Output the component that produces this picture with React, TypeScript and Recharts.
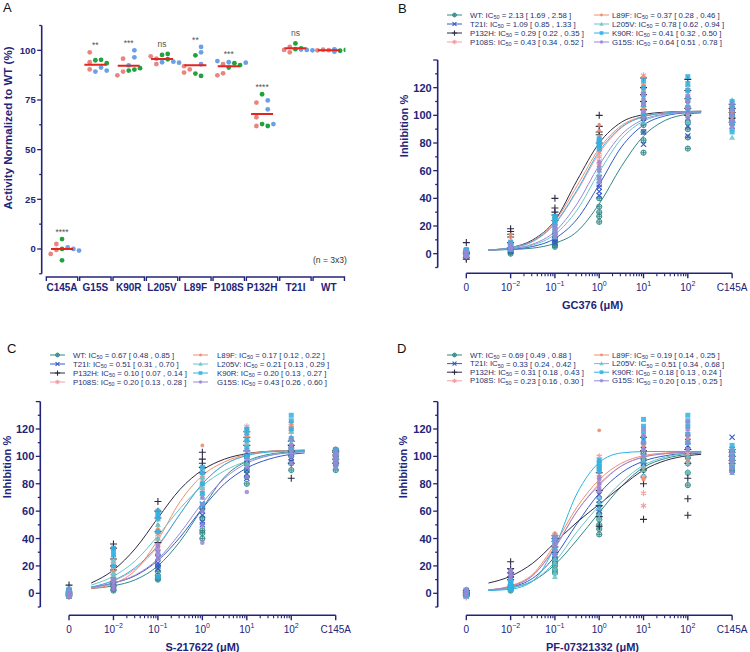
import React from 'react';
import { ComposedChart, Scatter, Line, XAxis, YAxis, Legend } from 'recharts';

const NAVY = '#22247a';
const TEXT = '#26306e';
const FONT = '"Liberation Sans", Arial, Helvetica, sans-serif';

// ---------- panel A: activity of each mutant, 3 replicates x 3 runs ----------
const mutants = ['C145A', 'G15S', 'K90R', 'L205V', 'L89F', 'P108S', 'P132H', 'T21I', 'WT'];
const activityRed = [[2.5, -0.5, -2.5], [99, 94, 90.4], [95.8, 89.3, 87.4], [95.8, 93.1, 97], [90.4, 88.8, 92], [93, 88.4, 87.4], [73.7, 66.3, 61.9], [101.7, 100.2, 99], [100.3, 100, 100.1]];
const activityGreen = [[5, -5.7, 0], [95, 95.2, 93.5], [89.8, 90.3, 91], [97.7, 98.2, 95.5], [97.5, 88.3, 87.1], [91.3, 93.5, 92.6], [77.9, 62.9, 61.9], [103.5, 101, 100.6], [100, 99.8, 100.2]];
const activityBlue = [[0.8, 0, -0.8], [91.3, 89.8, 89.3], [100, 96.5, 92.4], [94.3, 94, 93.8], [101.7, 99, 93], [94, 93.8, 94.6], [74.8, 70.3, 62.9], [100.2, 100, 100.4], [99.3, 100.2, 100.5]];
const activityMedian = [0, 92.8, 92.3, 95.6, 92.5, 92, 68, 101, 100];
const significance = ['****', '**', '***', 'ns', '**', '***', '****', 'ns', ''];

// ---------- panels B-D: dose response ----------
const variants = ['WT', 'T21I', 'P132H', 'P108S', 'L89F', 'L205V', 'K90R', 'G15S'];
const doseUM = [0, 0.01, 0.1, 1, 10, 100]; // 7th column of points is the C145A control
const curveUM = [0.00316, 0.01, 0.0316, 0.1, 0.316, 1, 3.16, 10, 31.6, 100, 200];

// GC376
const gcIC50 = [2.13, 1.09, 0.29, 0.43, 0.37, 0.78, 0.41, 0.64];
const gcLow = [1.69, 0.85, 0.22, 0.34, 0.28, 0.62, 0.32, 0.51];
const gcHigh = [2.58, 1.33, 0.35, 0.52, 0.46, 0.94, 0.5, 0.78];
const gcCurves = [
  [2.6, 3.0, 4.0, 7.5, 16, 36, 63, 85, 96.5, 100.8, 101.8],
  [2.7, 3.3, 5.2, 11, 25, 50, 77, 93, 99.7, 101.9, 102.5],
  [2.6, 4.4, 10, 24, 53, 80, 95, 100.5, 102.3, 102.8, 103],
  [2.7, 4.2, 8.6, 21.5, 45, 72.5, 91, 99, 101.7, 102.6, 102.8],
  [2.7, 4.4, 9.4, 23.5, 49, 76, 92.5, 99.4, 101.8, 102.6, 102.8],
  [2.6, 3.6, 6.2, 14, 31.5, 59, 83, 95.8, 100.6, 102.2, 102.6],
  [2.7, 4.3, 9, 22, 46, 74, 91.4, 99, 101.7, 102.6, 102.8],
  [2.6, 3.7, 6.9, 16, 36, 64, 86, 97, 101, 102.4, 102.7],
];
const gcPoints = [
  [[-1, 1, -2, 0, 2], [0, 2, 4, 1, 3], [5, 8, 11, 6, 9], [23, 30, 40, 27, 34], [73, 88, 98, 82, 93], [76, 90, 100, 84, 95], [96, 100, 104, 98, 102]],
  [[0, -1, 2, 1, -2], [2, 4, 6, 3, 5], [8, 12, 16, 10, 14], [45, 50, 55, 42, 48], [79, 95, 105, 88, 100], [85, 98, 108, 92, 103], [92, 99, 105, 95, 102]],
  [[8, -3, 1, 0, -4], [16, 18, 8, 12, 14], [30, 33, 40, 24, 28], [86, 88, 100, 80, 92], [110, 120, 127, 104, 115], [105, 118, 126, 100, 112], [95, 102, 108, 98, 105]],
  [[1, -1, 2, 0, -2], [4, 6, 9, 5, 8], [18, 22, 25, 20, 24], [64, 70, 76, 67, 73], [110, 122, 129, 104, 116], [100, 112, 120, 106, 116], [92, 98, 105, 95, 101]],
  [[0, 2, -1, 1, 3], [5, 7, 12, 9, 14], [20, 23, 27, 22, 25], [74, 85, 93, 79, 89], [105, 118, 128, 110, 122], [100, 110, 118, 105, 114], [95, 100, 106, 97, 103]],
  [[1, 2, 0, 3, -1], [3, 5, 7, 4, 6], [12, 15, 18, 14, 17], [52, 57, 62, 55, 60], [95, 108, 118, 102, 112], [95, 108, 122, 100, 115], [84, 96, 111, 90, 104]],
  [[0, 1, 2, -1, 3], [3, 6, 8, 4, 7], [20, 24, 27, 22, 26], [78, 80, 83, 76, 82], [100, 115, 125, 108, 120], [105, 118, 128, 112, 123], [88, 100, 110, 94, 106]],
  [[0, 1, -1, 2, -2], [3, 5, 7, 4, 6], [12, 16, 20, 14, 18], [55, 60, 66, 52, 63], [98, 108, 116, 103, 112], [98, 106, 114, 102, 110], [92, 100, 108, 96, 104]],
];

// S-217622
const sIC50 = [0.67, 0.51, 0.1, 0.2, 0.17, 0.21, 0.2, 0.43];
const sLow = [0.48, 0.31, 0.07, 0.13, 0.12, 0.13, 0.13, 0.26];
const sHigh = [0.85, 0.7, 0.14, 0.28, 0.22, 0.29, 0.27, 0.6];
const sCurves = [
  [3.5, 5.5, 10, 20, 38, 62, 85, 96.5, 101.5, 103.2, 103.7],
  [4.5, 7.5, 13, 24, 41, 62, 80, 91.5, 98, 101.5, 102.5],
  [7.5, 17, 33, 55, 76, 90, 98, 102, 103.7, 104.3, 104.5],
  [4.5, 9, 18, 34, 58, 80, 94, 101, 103.5, 104.2, 104.4],
  [3.5, 7, 17, 39, 67, 86, 96, 101.5, 103.6, 104.3, 104.5],
  [6, 12.5, 24, 42, 62, 78.5, 89.5, 96.5, 100.8, 102.8, 103.5],
  [4.5, 9.5, 19, 35, 58, 80, 94, 100.5, 103.2, 104, 104.3],
  [4, 7.5, 13.5, 25, 44, 66, 84, 95, 100.5, 102.8, 103.4],
];
const sPoints = [
  [[0, -1, 1, 2, -2], [2, 5, 8, 3, 6], [10, 13, 20, 11, 16], [40, 44, 62, 46, 55], [80, 90, 100, 85, 95], [90, 100, 106, 95, 103], [90, 100, 105, 95, 103]],
  [[0, 1, -1, 2, -2], [4, 8, 12, 6, 10], [18, 22, 30, 20, 26], [52, 57, 65, 50, 60], [84, 90, 100, 87, 95], [96, 102, 110, 99, 106], [92, 98, 104, 95, 101]],
  [[6, 0, -1, 1, -2], [20, 33, 36, 17, 25], [37, 55, 67, 45, 60], [92, 95, 103, 88, 98], [108, 114, 118, 104, 111], [84, 104, 111, 95, 108], [95, 101, 104, 98, 103]],
  [[-2, 0, 1, -1, 2], [10, 15, 23, 12, 19], [30, 40, 45, 35, 43], [75, 82, 90, 78, 86], [105, 115, 122, 110, 119], [105, 118, 124, 112, 121], [96, 100, 104, 98, 102]],
  [[-1, 1, 0, 2, -2], [8, 12, 20, 10, 16], [35, 44, 50, 40, 47], [80, 88, 108, 84, 92], [108, 115, 120, 111, 118], [108, 120, 125, 114, 123], [98, 102, 105, 100, 104]],
  [[0, 1, 2, -1, 3], [12, 20, 28, 15, 24], [40, 50, 58, 45, 54], [70, 77, 85, 73, 81], [95, 105, 112, 100, 109], [95, 110, 118, 103, 114], [92, 99, 104, 96, 102]],
  [[1, 0, 2, -1, 3], [10, 28, 33, 20, 31], [12, 55, 60, 45, 58], [65, 80, 92, 73, 88], [100, 112, 120, 106, 117], [105, 120, 130, 113, 126], [94, 100, 105, 97, 103]],
  [[0, 1, -1, 2, -2], [3, 6, 10, 5, 8], [25, 30, 35, 27, 33], [37, 60, 70, 50, 65], [74, 92, 104, 85, 98], [95, 104, 112, 100, 108], [92, 98, 103, 95, 101]],
];

// PF-07321332
const pfIC50 = [0.69, 0.33, 0.31, 0.23, 0.19, 0.51, 0.18, 0.2];
const pfLow = [0.49, 0.24, 0.18, 0.16, 0.14, 0.34, 0.13, 0.15];
const pfHigh = [0.88, 0.42, 0.43, 0.3, 0.25, 0.68, 0.24, 0.25];
const pfCurves = [
  [2.5, 4, 9, 21, 39, 59, 78, 92, 98.5, 101.5, 102.5],
  [2.5, 4.5, 11, 27, 51, 73, 88, 96.5, 100.5, 102.3, 102.8],
  [7.5, 12.5, 22, 37, 52, 65, 78, 90, 97, 100.5, 101.5],
  [2.5, 5, 13, 34, 60, 80, 93, 99.5, 102, 103, 103.3],
  [2.5, 5.5, 14, 36, 63, 83, 95, 100.5, 102.5, 103.2, 103.4],
  [2.2, 4, 9, 23, 45, 64, 81, 93.5, 99.5, 102.3, 102.9],
  [2, 3, 9, 34, 73, 95.5, 102.5, 103.5, 103.6, 103.6, 103.6],
  [2.5, 5, 13, 33, 60, 79, 93, 99.5, 102, 103, 103.3],
];
const pfPoints = [
  [[0, 1, -1, 2, -2], [2, 4, 6, 3, 5], [15, 20, 25, 17, 22], [43, 50, 58, 47, 54], [85, 95, 102, 90, 98], [79, 95, 102, 88, 99], [90, 98, 104, 94, 101]],
  [[1, 0, -1, 2, -2], [8, 13, 16, 10, 14], [25, 30, 40, 28, 35], [60, 65, 72, 62, 68], [95, 105, 112, 100, 108], [100, 108, 114, 104, 111], [90, 100, 114, 95, 105]],
  [[1, -2, 2, 0, -1], [10, 15, 23, 12, 18], [30, 38, 42, 34, 40], [49, 64, 88, 56, 75], [54, 80, 114, 90, 104], [57, 69, 84, 95, 105], [95, 100, 105, 97, 103]],
  [[-3, -1, 1, 0, -2], [4, 6, 9, 5, 8], [35, 40, 43, 37, 42], [75, 85, 100, 80, 92], [64, 73, 110, 85, 100], [95, 110, 118, 102, 114], [92, 98, 104, 95, 101]],
  [[0, 1, -1, 2, -2], [4, 7, 10, 5, 9], [32, 38, 44, 35, 41], [80, 88, 119, 84, 97], [83, 100, 115, 92, 108], [98, 112, 122, 105, 117], [95, 100, 106, 97, 103]],
  [[0, 1, 2, -1, 3], [3, 5, 8, 4, 6], [12, 18, 25, 15, 22], [55, 62, 70, 58, 66], [90, 97, 105, 93, 101], [89, 100, 110, 95, 105], [88, 100, 106, 94, 103]],
  [[0, 1, -1, 2, -2], [3, 6, 9, 4, 7], [28, 36, 41, 32, 39], [89, 93, 97, 91, 95], [110, 118, 127, 114, 122], [110, 122, 130, 116, 126], [92, 100, 108, 96, 104]],
  [[0, 1, 2, -1, 3], [12, 15, 17, 13, 16], [28, 35, 41, 31, 38], [75, 80, 85, 77, 83], [100, 110, 120, 105, 115], [105, 115, 125, 110, 120], [88, 96, 104, 92, 100]],
];

const variantColor = ['#2f8787', '#3358c8', '#2e2a44', '#f2a0a6', '#f08d6a', '#66c5c9', '#2fb2e4', '#9887d6'];
const dotColors = ['#e98580', '#22a23c', '#6b9fe6'];

// 0 µM sits one decade left of 10^-2, the C145A control one decade right of 10^2
const doseX = (d: number) => (d === 0 ? -3 : Math.log10(d));
const CONTROL_X = 3;

function Marker({ kind, cx, cy, color, k = 1 }: { kind: number; cx: number; cy: number; color: string; k?: number }) {
  const s = 2.6 * k;
  switch (kind) {
    case 0:
      return (
        <g>
          <circle cx={cx} cy={cy} r={s} fill={color} fillOpacity={0.3} stroke={color} strokeWidth={0.9} />
          <path d={`M${cx - s},${cy}H${cx + s}M${cx},${cy - s}V${cy + s}`} stroke={color} strokeWidth={0.8} />
        </g>
      );
    case 1:
      return <path d={`M${cx - s},${cy - s}L${cx + s},${cy + s}M${cx - s},${cy + s}L${cx + s},${cy - s}`} stroke={color} strokeWidth={1.1} />;
    case 2:
      return <path d={`M${cx - 3.5 * k},${cy}H${cx + 3.5 * k}M${cx},${cy - 3.5 * k}V${cy + 3.5 * k}`} stroke={color} strokeWidth={1.1} />;
    case 3:
      return <path d={`M${cx},${cy - 3 * k}V${cy + 3 * k}M${cx - 2.6 * k},${cy - 1.5 * k}L${cx + 2.6 * k},${cy + 1.5 * k}M${cx - 2.6 * k},${cy + 1.5 * k}L${cx + 2.6 * k},${cy - 1.5 * k}`} stroke={color} strokeWidth={1.2} />;
    case 4:
      return <circle cx={cx} cy={cy} r={1.9 * k} fill={color} fillOpacity={0.9} />;
    case 5:
      return <path d={`M${cx},${cy - 3 * k}L${cx + 3 * k},${cy + 2.2 * k}L${cx - 3 * k},${cy + 2.2 * k}Z`} fill={color} fillOpacity={0.85} />;
    case 6:
      return <rect x={cx - 2.5 * k} y={cy - 2.5 * k} width={5 * k} height={5 * k} fill={color} fillOpacity={0.85} />;
    default:
      return <circle cx={cx} cy={cy} r={2.3 * k} fill={color} fillOpacity={0.85} />;
  }
}

const majorLog = [-3, -2, -1, 0, 1, 2, 3];
const minorLog = [-2, -1, 0, 1].flatMap((d) => [2, 3, 4, 5, 6, 7, 8, 9].map((k) => d + Math.log10(k)));
const logTicks = [...majorLog, ...minorLog].sort((a, b) => a - b);
const inhibTicks = Array.from({ length: 16 }, (_, i) => -10 + i * 10);

function LogTick({ x, y, payload, dec, drop }: any) {
  const v = payload.value;
  const ly = y + drop;
  const major = Math.abs(v - Math.round(v)) < 1e-9;
  if (!major) return <line x1={x} x2={x} y1={ly} y2={ly + 3} stroke={NAVY} strokeWidth={1.1} />;
  const r = Math.round(v);
  let label: React.ReactNode;
  if (r === -3) label = '0';
  else if (r === 3) label = 'C145A';
  else
    label = (
      <>
        10
        <tspan fontSize={7} dy={-4}>
          {r < 0 ? `\u2212${-r}` : `${r}`}
        </tspan>
      </>
    );
  return (
    <g>
      {r === -3 && <line x1={x} x2={x + 6 * dec} y1={ly} y2={ly} stroke={NAVY} strokeWidth={1.6} />}
      <line x1={x} x2={x} y1={ly} y2={ly + 5} stroke={NAVY} strokeWidth={1.4} />
      <text x={x} y={ly + 14} textAnchor="middle" dominantBaseline="central" fontSize={10} fill={NAVY} fontFamily={FONT}>
        {label}
      </text>
    </g>
  );
}

function YTick({ x, y, payload, isMajor, showLabel, fontSize }: any) {
  const v = payload.value;
  const major = isMajor(v);
  return (
    <g>
      <line x1={x - (major ? 4.5 : 2.5)} x2={x} y1={y} y2={y} stroke={NAVY} strokeWidth={1.3} />
      {showLabel(v) && (
        <text x={x - 6} y={y} textAnchor="end" dominantBaseline="central" fontSize={fontSize} fontWeight="bold" fill={NAVY} fontFamily={FONT}>
          {v}
        </text>
      )}
    </g>
  );
}

function CatTick({ x, y, payload }: any) {
  const yl = y + 3.2;
  return (
    <g>
      <path d={`M${x - 15.7},${yl + 4}V${yl}H${x + 15.7}V${yl + 4}`} stroke={NAVY} strokeWidth={1.4} fill="none" />
      <text x={x} y={yl + 10.5} textAnchor="middle" dominantBaseline="central" fontSize={10} fontWeight="bold" fill={NAVY} fontFamily={FONT}>
        {mutants[payload.value]}
      </text>
    </g>
  );
}

const jitterPrefs = [
  [-0.17, -0.34, 0, -0.51, 0.17, 0.34],
  [0, 0.17, -0.17, 0.34, -0.34, 0.51],
  [0.17, 0.34, 0, 0.51, -0.17, -0.34],
];

function ActivityPanel() {
  const W = 360;
  const H = 300;
  const pxX = 33.34;
  const pxY = 1.987;
  const dots: { x: number; y: number }[][] = [[], [], []];
  mutants.forEach((_, i) => {
    const placed: { x: number; y: number }[] = [];
    [activityRed, activityGreen, activityBlue].forEach((arr, c) => {
      arr[i].forEach((y) => {
        const off = jitterPrefs[c].find((o) => placed.every((q) => Math.hypot((q.x - o) * pxX, (q.y - y) * pxY) >= 5)) ?? jitterPrefs[c][0];
        placed.push({ x: off, y });
        dots[c].push({ x: i + off, y });
      });
    });
  });
  const medians = activityMedian.map((y, i) => ({ x: i, y }));
  const sig = significance
    .map((s, i) => ({ x: i, y: Math.max(...activityRed[i], ...activityGreen[i], ...activityBlue[i]) + 5, s }))
    .filter((d) => d.s);
  const xMin = -0.61;
  const xMax = 8.5;
  const right = W - 41.7 - (xMax - xMin) * pxX;

  return (
    <ComposedChart width={W} height={H} margin={{ top: 25.5, right, bottom: 0, left: 0 }} style={{ fontFamily: FONT }}>
      <XAxis type="number" dataKey="x" domain={[xMin, xMax]} allowDataOverflow ticks={mutants.map((_, i) => i)} interval={0} height={26.2} tickSize={0} tickMargin={0} axisLine={false} tickLine={false} tick={(p: any) => <CatTick {...p} />} />
      <YAxis
        type="number"
        dataKey="y"
        domain={[-12.5, 112.5]}
        allowDataOverflow
        ticks={[-12.5, 0, 12.5, 25, 37.5, 50, 62.5, 75, 87.5, 100, 112.5]}
        interval={0}
        width={41.7}
        tickSize={0}
        tickMargin={0}
        tickLine={false}
        axisLine={{ stroke: NAVY, strokeWidth: 1.6 }}
        tick={(p: any) => <YTick {...p} fontSize={9.5} isMajor={(v: number) => v % 25 === 0} showLabel={(v: number) => v % 25 === 0 && v >= 0 && v <= 100} />}
        label={{
          content: () => (
            <text x={7.5} y={128} transform="rotate(-90 7.5 128)" textAnchor="middle" dominantBaseline="central" fontSize={11.5} fontWeight="bold" fill={NAVY} fontFamily={FONT}>
              Activity Normalized to WT (%)
            </text>
          ),
        }}
      />
      {dots.map((d, c) => (
        <Scatter key={c} data={d} isAnimationActive={false} shape={(p: any) => <circle cx={p.cx} cy={p.cy} r={2.4} fill={dotColors[c]} />} />
      ))}
      <Scatter data={medians} isAnimationActive={false} shape={(p: any) => <line x1={p.cx - 11} x2={p.cx + 11} y1={p.cy} y2={p.cy} stroke="#e3241f" strokeWidth={2} />} />
      <Scatter
        data={sig}
        isAnimationActive={false}
        shape={(p: any) => (
          <text x={p.cx} y={p.cy + (p.payload.s === 'ns' ? 0 : 2.5)} textAnchor="middle" dominantBaseline="central" fontSize={8.5} fill="#555" fontFamily={FONT}>
            {p.payload.s}
          </text>
        )}
      />
    </ComposedChart>
  );
}

type DoseCfg = {
  width: number;
  height: number;
  yAxisW: number;
  dec: number;
  plotTop: number;
  xAxisH: number;
  drop: number;
  titleX: number;
  yLabelX: number;
  yLabelY: number;
  legendY: number;
  legendGap: number;
  cols: number[][];
  drug: string;
  ic50: number[];
  low: number[];
  high: number[];
  curves: number[][];
  points: number[][][];
};

function DoseLegend({ c }: { c: DoseCfg }) {
  return (
    <svg width={c.width} height={60} style={{ display: 'block', overflow: 'visible' }}>
      {variants.map((v, i) => {
        const col = c.cols[Math.floor(i / 4)];
        const y = c.legendY + (i % 4) * c.legendGap;
        return (
          <g key={v}>
            <line x1={col[0]} x2={col[0] + 15} y1={y} y2={y} stroke={variantColor[i]} strokeWidth={1} />
            <Marker kind={i} cx={col[0] + 7.5} cy={y} color={variantColor[i]} k={0.75} />
            <text x={col[1]} y={y} dominantBaseline="central" fontSize={7.8} fill={TEXT} fontFamily={FONT}>
              {v}: IC
              <tspan fontSize={5.5} dy={2}>
                50
              </tspan>
              <tspan dy={-2}>{` = ${c.ic50[i].toFixed(2)} [ ${c.low[i].toFixed(2)} , ${c.high[i].toFixed(2)} ]`}</tspan>
            </text>
          </g>
        );
      })}
    </svg>
  );
}

function DosePanel({ c }: { c: DoseCfg }) {
  const xMin = -3.646;
  const xMax = 3.1;
  const right = c.width - c.yAxisW - (xMax - xMin) * c.dec;
  const plotBottom = c.height - c.xAxisH;
  const series = variants.map((v, i) => ({
    curve: curveUM.map((u, k) => ({ x: Math.log10(u), y: c.curves[i][k] })),
    pts: c.points[i].flatMap((reps, d) => reps.map((y) => ({ x: d < doseUM.length ? doseX(doseUM[d]) : CONTROL_X, y }))),
  }));

  return (
    <ComposedChart width={c.width} height={c.height} margin={{ top: c.plotTop, right, bottom: 0, left: 0 }} style={{ fontFamily: FONT }}>
      <XAxis
        type="number"
        dataKey="x"
        domain={[xMin, xMax]}
        allowDataOverflow
        ticks={logTicks}
        interval={0}
        height={c.xAxisH}
        tickSize={0}
        tickMargin={0}
        axisLine={false}
        tickLine={false}
        tick={(p: any) => <LogTick {...p} dec={c.dec} drop={c.drop} />}
        label={{
          content: () => (
            <text x={c.titleX} y={plotBottom + c.drop + 31.6} textAnchor="middle" dominantBaseline="central" fontSize={11} fontWeight="bold" fill={NAVY} fontFamily={FONT}>
              {c.drug} (μM)
            </text>
          ),
        }}
      />
      <YAxis
        type="number"
        dataKey="y"
        domain={[-10, 140]}
        allowDataOverflow
        ticks={inhibTicks}
        interval={0}
        width={c.yAxisW}
        tickSize={0}
        tickMargin={0}
        tickLine={false}
        axisLine={{ stroke: NAVY, strokeWidth: 1.6 }}
        tick={(p: any) => <YTick {...p} fontSize={11} isMajor={(v: number) => v % 20 === 0} showLabel={(v: number) => v % 20 === 0 && v >= 0 && v <= 120} />}
        label={{
          content: () => (
            <text x={c.yLabelX} y={c.yLabelY} transform={`rotate(-90 ${c.yLabelX} ${c.yLabelY})`} textAnchor="middle" dominantBaseline="central" fontSize={11} fontWeight="bold" fill={NAVY} fontFamily={FONT}>
              Inhibition %
            </text>
          ),
        }}
      />
      <Legend layout="horizontal" verticalAlign="middle" align="center" wrapperStyle={{ left: 0, top: 0, width: c.width, height: 60 }} content={() => <DoseLegend c={c} />} />
      {series.map((s, i) => (
        <Line key={`l${i}`} data={s.curve} dataKey="y" type="monotone" stroke={variantColor[i]} strokeWidth={1} dot={false} activeDot={false} isAnimationActive={false} legendType="none" />
      ))}
      {series.map((s, i) => (
        <Scatter key={`s${i}`} data={s.pts} isAnimationActive={false} legendType="none" shape={(p: any) => <Marker kind={i} cx={p.cx} cy={p.cy} color={variantColor[i]} />} />
      ))}
    </ComposedChart>
  );
}

const panelB: DoseCfg = {
  width: 375, height: 320, yAxisW: 62.7, dec: 44.3, plotTop: 60, xAxisH: 52.5, drop: 5.8, titleX: 217.5,
  yLabelX: 29, yLabelY: 126, legendY: 15, legendGap: 9, cols: [[72, 95], [219, 237]],
  drug: 'GC376', ic50: gcIC50, low: gcLow, high: gcHigh, curves: gcCurves, points: gcPoints,
};
const panelC: DoseCfg = {
  width: 375, height: 322, yAxisW: 40.3, dec: 44.45, plotTop: 71.6, xAxisH: 45, drop: 8.2, titleX: 202.5,
  yLabelX: 6.7, yLabelY: 137, legendY: 25, legendGap: 9, cols: [[50, 73], [193, 217]],
  drug: 'S-217622', ic50: sIC50, low: sLow, high: sHigh, curves: sCurves, points: sPoints,
};
const panelD: DoseCfg = {
  width: 375, height: 322, yAxisW: 62.7, dec: 44.3, plotTop: 71.6, xAxisH: 45, drop: 8.2, titleX: 217.5,
  yLabelX: 28, yLabelY: 137, legendY: 25, legendGap: 8.6, cols: [[72, 95], [219, 237]],
  drug: 'PF-07321332', ic50: pfIC50, low: pfLow, high: pfHigh, curves: pfCurves, points: pfPoints,
};

const letterStyle: React.CSSProperties = { position: 'absolute', fontSize: 13, lineHeight: '13px', color: '#111', fontFamily: FONT };

export default function App() {
  return (
    <div style={{ position: 'absolute', left: 0, top: 0, width: 750, height: 652, background: '#fff', fontFamily: FONT, overflow: 'hidden' }}>
      <div style={{ position: 'absolute', left: 0, top: 0 }}>
        <ActivityPanel />
      </div>
      <div style={{ position: 'absolute', left: 375, top: 0 }}>
        <DosePanel c={panelB} />
      </div>
      <div style={{ position: 'absolute', left: 0, top: 330 }}>
        <DosePanel c={panelC} />
      </div>
      <div style={{ position: 'absolute', left: 375, top: 330 }}>
        <DosePanel c={panelD} />
      </div>
      <div style={{ ...letterStyle, left: 3, top: 1 }}>A</div>
      <div style={{ ...letterStyle, left: 398, top: 2 }}>B</div>
      <div style={{ ...letterStyle, left: 7, top: 342 }}>C</div>
      <div style={{ ...letterStyle, left: 397, top: 342 }}>D</div>
      <div style={{ position: 'absolute', left: 313, top: 255, fontSize: 8.5, lineHeight: '10px', color: '#333', fontFamily: FONT }}>(n = 3x3)</div>
    </div>
  );
}
